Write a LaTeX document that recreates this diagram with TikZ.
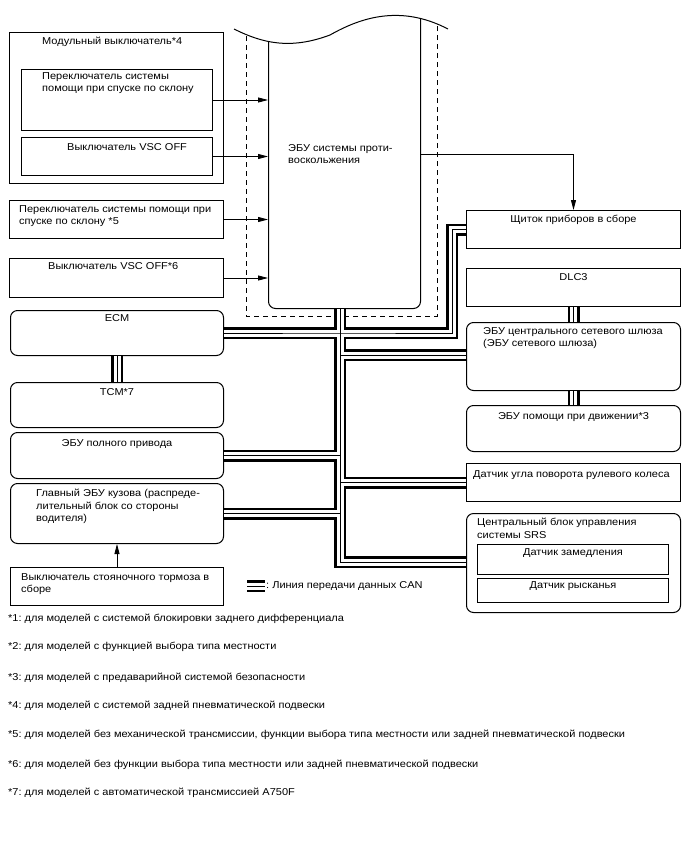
\documentclass[tikz,border=0pt]{standalone}
\usepackage{fontspec}
\setmainfont{Liberation Sans}[FakeStretch=1.1]
\usetikzlibrary{arrows.meta,positioning}
\frenchspacing

\begin{document}
\begin{tikzpicture}[x=1pt,y=-1pt,
  box/.style={draw,line width=1pt,anchor=north west,inner sep=0pt},
  rbox/.style={box,rounded corners=7pt},
  txt/.style={font=\fontsize{10}{12.5}\selectfont,inner sep=0pt,align=left,anchor=north west},
  ctxt/.style={txt,align=center,anchor=north},
  arr/.style={-{Triangle[length=10pt,width=5pt]},line width=0.8pt},
  canA/.style={line width=12pt},
  canB/.style={white,line width=7pt},
  canC/.style={line width=1pt},
  dsh/.style={line width=0.9pt,dash pattern=on 5pt off 4pt}]
\useasboundingbox (0,0) rectangle (688,852);
% left column
\node[box,minimum width=214pt,minimum height=151pt] (mod) at (9,32) {};
\node[box,minimum width=191pt,minimum height=61pt] (hdc1) at (21,69) {};
\node[box,minimum width=191pt,minimum height=38pt] (vsc1) at (21,137) {};
\node[box,minimum width=214pt,minimum height=38pt] (hdc2) at (9,200) {};
\node[box,minimum width=214pt,minimum height=39pt] (vsc2) at (9,258) {};
\node[rbox,minimum width=213pt,minimum height=45pt] (ecm) at (10,310) {};
\node[rbox,minimum width=213pt,minimum height=45pt] (tcm) at (10,382) {};
\node[rbox,minimum width=213pt,minimum height=46pt] (awd) at (10,432) {};
\node[rbox,minimum width=213pt,minimum height=60pt] (bcm) at (10,483) {};
\node[box,minimum width=213pt,minimum height=38pt] (pkb) at (10,567) {};
% right column
\node[box,minimum width=214pt,minimum height=38pt] (shch) at (466,210) {};
\node[box,minimum width=214pt,minimum height=38pt] (dlc) at (466,268) {};
\node[rbox,minimum width=214pt,minimum height=68pt] (gw) at (466,322) {};
\node[rbox,minimum width=214pt,minimum height=46pt] (das) at (466,405) {};
\node[box,minimum width=214pt,minimum height=38pt] (str) at (466,463) {};
\node[rbox,minimum width=214pt,minimum height=99pt] (srs) at (466,513) {};
\node[box,minimum width=191pt,minimum height=30pt] (dec) at (477,544) {};
\node[box,minimum width=191pt,minimum height=24pt] (yaw) at (477,578) {};
% skid control ECU, cut by the wave
\begin{scope}
\clip (234,29) .. controls (262,43) and (290,50) .. (330,35)
  .. controls (360,18) and (400,4) .. (448,29) -- (448,330) -- (234,330) -- cycle;
\draw[dsh] (246,0) rectangle (437,316);
\node[rbox,minimum width=152pt,minimum height=318pt] (ecu) at (268,-10) {};
\end{scope}
\draw[line width=1pt] (234,29) .. controls (262,43) and (290,50) .. (330,35)
  .. controls (360,18) and (400,4) .. (448,29);
% CAN lines
\coordinate (tx) at (340,0);
\coordinate (gy) at (0,355);
\coordinate (bx) at (340,562);
\coordinate (ay) at (0,154);
\coordinate (lega) at (247,586);
\coordinate (legb) at (265,586);
\def\canroute{(ecu.south -| tx) -- (bx) -- (srs.west |- bx)
  (ecm.east) -- (ecm.east -| tx) -| ([xshift=-14pt]shch.west) -- (shch.west)
  (tx |- gy) -- (gw.west |- gy)
  (awd.east) -- (awd.east -| tx)
  (str.west) -- (str.west -| tx)
  (bcm.east) -- (bcm.east -| tx)
  (ecm.south) -- (tcm.north)
  (dlc.south) -- (gw.north)
  (gw.south) -- (das.north)
  (lega) -- (legb)}
\draw[canA] \canroute;
\draw[canB] \canroute;
\draw[canC] \canroute;
% signals
\foreach \a in {hdc1,vsc1,hdc2,vsc2} \draw[arr] (\a.east) -- (\a.east -| ecu.west);
\draw[arr] (ecu.east |- ay) -| (shch.north);
\draw[arr] (pkb.north) -- (bcm.south);
% texts
\node[txt] (modt) at (42,37) {Модульный выключатель*4};
\node[txt] (hdc1t) at (42,72) {Переключатель системы\\помощи при спуске по склону};
\node[txt] (vsc1t) at (67,143) {Выключатель VSC OFF};
\node[txt] (hdc2t) at (19,205) {Переключатель системы помощи при\\спуске по склону *5};
\node[txt] (vsc2t) at (48,262) {Выключатель VSC OFF*6};
\node[ctxt,below=4pt of ecm.north] (ecmt) {ECM};
\node[ctxt,below=6pt of tcm.north] (tcmt) {TCM*7};
\node[ctxt,below=7pt of awd.north] (awdt) {ЭБУ полного привода};
\node[txt] (bcmt) at (36,489) {Главный ЭБУ кузова (распреде-\\лительный блок со стороны\\водителя)};
\node[txt] (pkbt) at (21,573) {Выключатель стояночного тормоза в\\сборе};
\node[txt] (ecut) at (288,144) {ЭБУ системы проти-\\воскольжения};
\node[ctxt,below=5pt of shch.north] (shcht) {Щиток приборов в сборе};
\node[ctxt,below=5pt of dlc.north] (dlct) {DLC3};
\node[txt] (gwt) at (483,327) {ЭБУ центрального сетевого шлюза\\(ЭБУ сетевого шлюза)};
\node[ctxt,below=7pt of das.north] (dast) {ЭБУ помощи при движении*3};
\node[txt] (strt) at (473,470) {Датчик угла поворота рулевого колеса};
\node[txt] (srst) at (477,518) {Центральный блок управления\\системы SRS};
\node[ctxt,below=4pt of dec.north] (dect) {Датчик замедления};
\node[ctxt,below=3pt of yaw.north] (yawt) {Датчик рысканья};
\node[txt] (legt) at (266,581) {: Линия передачи данных CAN};
% footnotes
\node[txt] (fn1) at (8,614) {*1: для моделей с системой блокировки заднего дифференциала};
\node[txt] (fn2) at (8,642) {*2: для моделей с функцией выбора типа местности};
\node[txt] (fn3) at (8,673) {*3: для моделей с предаварийной системой безопасности};
\node[txt] (fn4) at (8,701) {*4: для моделей с системой задней пневматической подвески};
\node[txt] (fn5) at (8,730) {*5: для моделей без механической трансмиссии, функции выбора типа местности или задней пневматической подвески};
\node[txt] (fn6) at (8,760) {*6: для моделей без функции выбора типа местности или задней пневматической подвески};
\node[txt] (fn7) at (8,788) {*7: для моделей с автоматической трансмиссией A750F};
\end{tikzpicture}
\end{document}
